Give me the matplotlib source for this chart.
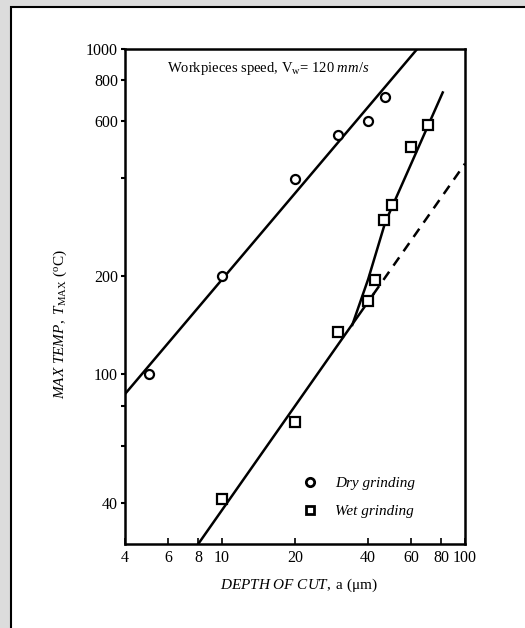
import numpy as np
import matplotlib
matplotlib.use("Agg")
import matplotlib.pyplot as plt
from matplotlib.patches import Rectangle
from matplotlib.lines import Line2D

plt.rcParams['font.family'] = ['Liberation Serif', 'DejaVu Serif']
plt.rcParams['mathtext.fontset'] = 'custom'
plt.rcParams['mathtext.rm'] = 'Liberation Serif'
plt.rcParams['mathtext.it'] = 'Liberation Serif:italic'

# ---- data ----
dry_depth = [5, 10, 20, 30, 40, 47]
dry_temp = [100, 200, 398, 544, 600, 711]

wet_depth = [10, 20, 30, 40, 42.7, 46.4, 50, 60, 70.5]
wet_temp = [41.3, 71.2, 134.6, 168, 195, 298, 331, 499, 583]

# fitted lines
dry_fit_depth = [4, 63.6]
dry_fit_temp = [86.8, 1000]

wet_fit_depth = [8, 42]
wet_fit_temp = [30, 176]
wet_ext_depth = [42, 100]
wet_ext_temp = [176, 444]
wet_upper_depth = [34.4, 40, 47, 81]
wet_upper_temp = [141.6, 196, 293, 735]

x_ticks = [4, 6, 8, 10, 20, 40, 60, 80, 100]
y_ticks = [40, 60, 80, 100, 200, 400, 600, 800, 1000]
y_ticklabels = ["40", "", "", "100", "200", "", "600", "800", "1000"]

# ---- figure ----
fig = plt.figure(figsize=(5.25, 6.28), dpi=100, facecolor='#dcdcdc')
fig.add_artist(Rectangle((11 / 525, -0.05), 1.1, 1 - 7 / 628 + 0.05,
                         transform=fig.transFigure, facecolor='white',
                         edgecolor='black', lw=1.5, zorder=0))

ax = fig.add_axes([125 / 525, 1 - 544 / 628, 340 / 525, 495 / 628])
ax.set_xscale('log')
ax.set_yscale('log')
ax.set_xlim(4, 100)
ax.set_ylim(30, 1000)

lw = 1.8
ax.plot(dry_fit_depth, dry_fit_temp, color='black', lw=lw)
ax.plot(wet_fit_depth, wet_fit_temp, color='black', lw=lw)
ax.plot(wet_ext_depth, wet_ext_temp, color='black', lw=lw, dashes=(4, 3))
ax.plot(wet_upper_depth, wet_upper_temp, color='black', lw=lw)

ax.plot(dry_depth, dry_temp, 'o', ms=6.5, mfc='white', mec='black', mew=1.6)
ax.plot(wet_depth, wet_temp, 's', ms=6.5, mfc='white', mec='black', mew=1.6)

ax.set_xticks(x_ticks)
ax.set_xticklabels([str(v) for v in x_ticks])
ax.set_yticks(y_ticks)
ax.set_yticklabels(y_ticklabels)
ax.minorticks_off()
ax.tick_params(axis='x', direction='in', length=4, width=1.2, labelsize=11.5, pad=4)
ax.tick_params(axis='y', direction='out', length=3, width=1.5, labelsize=11.5, pad=2)
for s in ax.spines.values():
    s.set_linewidth(1.8)

ax.set_xlabel(r"$\it{DEPTH\ OF\ CUT,}$ a ($\mathrm{\mu}$m)", fontsize=11)
ax.xaxis.set_label_coords(0.512, -0.065)
ax.set_ylabel(r"$\it{MAX\ TEMP,\ T}_{\rm MAX}$ ($^{\rm o}$C)", fontsize=11)
ax.yaxis.set_label_coords(-0.165, 0.444)

ax.text(0.1235, 0.96, r"Workpieces speed, V$_{\rm w}$= $\it{120\ mm/s}$",
        transform=ax.transAxes, fontsize=10.5, va='center', ha='left')

handles = [
    Line2D([], [], ls='none', marker='o', ms=6, mfc='white', mec='black', mew=2),
    Line2D([], [], ls='none', marker='s', ms=6, mfc='white', mec='black', mew=2),
]
ax.legend(handles, ["Dry grinding", "Wet grinding"], loc='lower left',
          bbox_to_anchor=(0.46, 0.025), frameon=False,
          prop={'family': 'Liberation Serif', 'style': 'italic', 'size': 11},
          handletextpad=0.6, labelspacing=0.9)

fig.savefig("out.png", dpi=100)
